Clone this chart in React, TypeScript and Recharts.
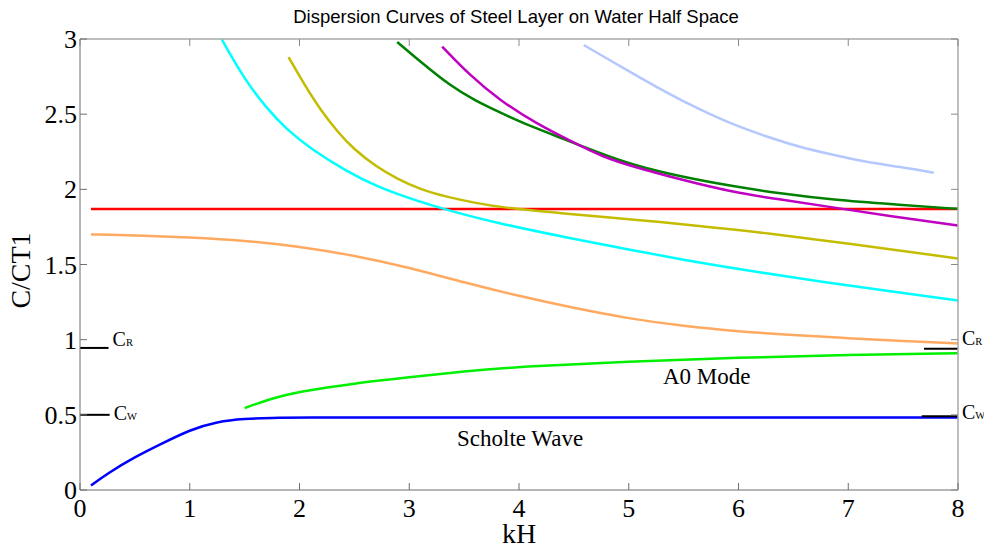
import { Line, LineChart, ReferenceLine, XAxis, YAxis } from 'recharts'

// kH (x) and C/CT1 (y) samples for each branch
const scholteK = [0.1, 0.25, 0.5, 0.75, 1, 1.25, 1.5, 1.75, 2, 3, 4, 5, 6, 7, 8]
const scholteC = [0.03, 0.11, 0.22, 0.31, 0.4, 0.455, 0.474, 0.48, 0.482, 0.482, 0.482, 0.482, 0.482, 0.482, 0.482]

const a0K = [1.5, 1.75, 2, 2.5, 3, 3.5, 4, 5, 6, 7, 8]
const a0C = [0.545, 0.61, 0.655, 0.71, 0.75, 0.79, 0.82, 0.855, 0.88, 0.9, 0.91]

const orangeK = [0.1, 0.5, 1, 1.5, 2, 2.5, 3, 3.5, 4, 4.5, 5, 5.5, 6, 6.5, 7, 7.5, 8]
const orangeC = [1.7, 1.695, 1.68, 1.66, 1.62, 1.56, 1.48, 1.38, 1.29, 1.21, 1.14, 1.09, 1.055, 1.03, 1.01, 0.99, 0.975]

const redK = [0.1, 8]
const redC = [1.87, 1.87]

const cyanK = [1.29, 1.5, 1.7, 1.88, 2.1, 2.43, 2.7, 3.04, 3.4, 3.83, 4.5, 5, 5.5, 6, 6.44, 7, 7.5, 8]
const cyanC = [3, 2.73, 2.54, 2.4, 2.27, 2.12, 2.02, 1.93, 1.85, 1.77, 1.67, 1.6, 1.53, 1.47, 1.42, 1.36, 1.31, 1.26]

const oliveK = [1.9, 2.05, 2.19, 2.35, 2.49, 2.7, 2.89, 3.1, 3.34, 3.6, 3.83, 4.4, 5.04, 5.6, 6.26, 7, 8]
const oliveC = [2.88, 2.69, 2.53, 2.38, 2.27, 2.15, 2.07, 2.0, 1.95, 1.91, 1.88, 1.84, 1.8, 1.76, 1.71, 1.64, 1.54]

const darkGreenK = [2.89, 3.1, 3.37, 3.6, 3.83, 4.1, 4.43, 4.7, 5.04, 5.5, 5.95, 6.4, 6.86, 7.4, 8]
const darkGreenC = [2.98, 2.85, 2.69, 2.59, 2.51, 2.42, 2.33, 2.25, 2.16, 2.08, 2.02, 1.97, 1.93, 1.9, 1.87]

const magentaK = [3.3, 3.55, 3.83, 4.15, 4.5, 4.75, 5.04, 5.5, 5.95, 6.4, 6.86, 7.4, 8]
const magentaC = [2.95, 2.76, 2.59, 2.44, 2.31, 2.22, 2.15, 2.06, 1.98, 1.93, 1.88, 1.82, 1.76]

const lightBlueK = [4.59, 4.8, 5.04, 5.35, 5.65, 5.95, 6.26, 6.56, 6.86, 7.17, 7.47, 7.78]
const lightBlueC = [2.96, 2.87, 2.77, 2.64, 2.53, 2.43, 2.35, 2.28, 2.23, 2.18, 2.15, 2.11]

// reference speeds c_R and c_W, marked at both sides
const markK = [
  [0, 0.26], [0, 0.27], [7.69, 8], [7.67, 8],
]
const markC = [0.945, 0.5, 0.94, 0.49]
const markSub = ['R', 'W', 'R', 'W']

const xTicks = [0, 1, 2, 3, 4, 5, 6, 7, 8]
const yTicks = [0, 0.5, 1, 1.5, 2, 2.5, 3]

const toPoints = (k: number[], c: number[]) => k.map((x, i) => ({ k: x, c: c[i] }))

const series = [
  { name: 'scholte', k: scholteK, c: scholteC, color: '#0000ff' },
  { name: 'a0', k: a0K, c: a0C, color: '#00f000' },
  { name: 'orange', k: orangeK, c: orangeC, color: '#ffaa60' },
  { name: 'red', k: redK, c: redC, color: '#ff0000' },
  { name: 'cyan', k: cyanK, c: cyanC, color: '#00ffff' },
  { name: 'olive', k: oliveK, c: oliveC, color: '#c4bc00' },
  { name: 'darkgreen', k: darkGreenK, c: darkGreenC, color: '#008000' },
  { name: 'magenta', k: magentaK, c: magentaC, color: '#c000c0' },
  { name: 'lightblue', k: lightBlueK, c: lightBlueC, color: '#b4c8ff' },
]

const SERIF = '"Liberation Serif", "Times New Roman", serif'
// baseline shift of each C_R / C_W label relative to its marker line
const MARK_DY = [-2, 5, -4, 3]

const BottomTick = (props: any) => {
  const { x, y, payload } = props
  return (
    <g>
      <line x1={x} x2={x} y1={y} y2={y - 7} stroke="#6e6e6e" />
      <text x={x} y={y + 27} textAnchor="middle" fontFamily={SERIF} fontSize={26} fill="#000">
        {payload.value}
      </text>
    </g>
  )
}

const LeftTick = (props: any) => {
  const { x, y, payload } = props
  return (
    <g>
      <line x1={x} x2={x + 7} y1={y} y2={y} stroke="#6e6e6e" />
      <text x={x - 3} y={y + 9} textAnchor="end" fontFamily={SERIF} fontSize={26} fill="#000">
        {payload.value}
      </text>
    </g>
  )
}

const TopTick = (props: any) => {
  const { x, y } = props
  return <line x1={x} x2={x} y1={y} y2={y + 7} stroke="#8a8a8a" />
}

const RightTick = (props: any) => {
  const { x, y } = props
  return <line x1={x} x2={x - 7} y1={y} y2={y} stroke="#8a8a8a" />
}

const markLabel = (sub: string, dy: number) => (p: any) => {
  const vb = p.viewBox
  return (
    <text x={vb.x + vb.width + 4} y={vb.y + dy} fontFamily={SERIF} fill="#000">
      <tspan fontSize={20}>C</tspan>
      <tspan fontSize={10.5}>{sub}</tspan>
    </text>
  )
}

const yLabel = (p: any) => {
  const vb = p.viewBox
  const cx = 20
  const cy = vb.y + vb.height / 2 + 6
  return (
    <text
      x={cx}
      y={cy}
      transform={`rotate(-90, ${cx}, ${cy})`}
      textAnchor="middle"
      dominantBaseline="central"
      fontFamily={SERIF}
      fontSize={28}
      fill="#000"
    >
      C/CT1
    </text>
  )
}

export default function App() {
  return (
    <div style={{ position: 'absolute', left: 0, top: 0, width: 984, height: 547, background: '#fff' }}>
      <div
        style={{
          position: 'absolute',
          left: 0,
          top: 6,
          width: 984,
          textAlign: 'center',
          fontFamily: '"Liberation Sans", Arial, sans-serif',
          fontSize: 18.5,
          lineHeight: '22px',
          color: '#000',
        }}
      >
        <span style={{ position: 'relative', left: 24 }}>Dispersion Curves of Steel Layer on Water Half Space</span>
      </div>
      <LineChart width={984} height={547} margin={{ top: 0, right: 0, bottom: 0, left: 0 }}>
        <XAxis
          xAxisId="b"
          type="number"
          dataKey="k"
          domain={[0, 8]}
          ticks={xTicks}
          height={57}
          allowDataOverflow
          stroke="#6e6e6e"
          tickLine={false}
          tickSize={0}
          tickMargin={0}
          tick={<BottomTick />}
          label={{ value: 'kH', position: 'insideBottom', offset: 4, style: { fontFamily: SERIF, fontSize: 28, fill: '#000' } }}
        />
        <XAxis
          xAxisId="t"
          orientation="top"
          type="number"
          dataKey="k"
          domain={[0, 8]}
          ticks={xTicks}
          height={39}
          allowDataOverflow
          stroke="#a8a8a8"
          strokeWidth={1.5}
          tickLine={false}
          tickSize={0}
          tickMargin={0}
          tick={<TopTick />}
        />
        <YAxis
          yAxisId="l"
          type="number"
          dataKey="c"
          domain={[0, 3]}
          ticks={yTicks}
          width={80}
          allowDataOverflow
          stroke="#6e6e6e"
          tickLine={false}
          tickSize={0}
          tickMargin={0}
          tick={<LeftTick />}
          label={{ content: yLabel }}
        />
        <YAxis
          yAxisId="r"
          orientation="right"
          type="number"
          dataKey="c"
          domain={[0, 3]}
          ticks={yTicks}
          width={26}
          allowDataOverflow
          stroke="#a8a8a8"
          strokeWidth={1.5}
          tickLine={false}
          tickSize={0}
          tickMargin={0}
          tick={<RightTick />}
        />
        {series.map((s) => (
          <Line
            key={s.name}
            xAxisId="b"
            yAxisId="l"
            data={toPoints(s.k, s.c)}
            dataKey="c"
            type="basis"
            stroke={s.color}
            strokeWidth={2.5}
            dot={false}
            activeDot={false}
            isAnimationActive={false}
          />
        ))}
        {markC.map((c, i) => (
          <ReferenceLine
            key={i}
            xAxisId="b"
            yAxisId="l"
            segment={[{ x: markK[i][0], y: c }, { x: markK[i][1], y: c }]}
            stroke="#000"
            strokeWidth={2}
            ifOverflow="visible"
            label={{ content: markLabel(markSub[i], MARK_DY[i]) }}
          />
        ))}
        <ReferenceLine
          xAxisId="b"
          yAxisId="l"
          segment={[{ x: 5.71, y: 0.76 }, { x: 5.71, y: 0.76 }]}
          stroke="none"
          label={{ value: 'A0 Mode', position: 'center', style: { fontFamily: SERIF, fontSize: 23, fill: '#000' } }}
        />
        <ReferenceLine
          xAxisId="b"
          yAxisId="l"
          segment={[{ x: 4.01, y: 0.35 }, { x: 4.01, y: 0.35 }]}
          stroke="none"
          label={{ value: 'Scholte Wave', position: 'center', style: { fontFamily: SERIF, fontSize: 23, fill: '#000' } }}
        />
      </LineChart>
    </div>
  )
}
